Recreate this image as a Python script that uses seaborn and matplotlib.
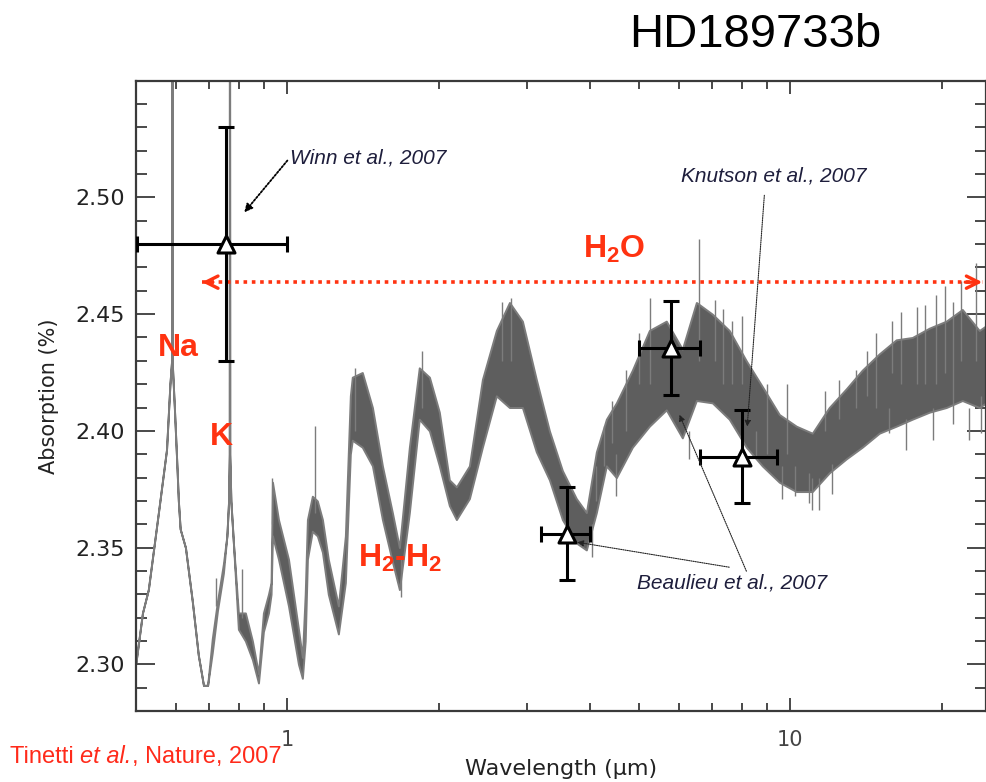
import matplotlib
matplotlib.use("Agg")
import matplotlib.pyplot as plt
import seaborn as sns
import pandas as pd
from matplotlib.ticker import FixedLocator, FixedFormatter, NullFormatter

# ---------------- data ----------------
# model spectrum: wavelength (micron), lower and upper envelope of the band (%)
spec_wl = [0.500, 0.515, 0.529, 0.554, 0.575, 0.584, 0.5885, 0.5888, 0.5895, 0.5900,
           0.596, 0.603, 0.607, 0.612, 0.627, 0.647, 0.665, 0.681, 0.694, 0.709,
           0.726, 0.746, 0.758, 0.764, 0.7665, 0.7668, 0.7675, 0.768, 0.772, 0.781,
           0.799, 0.825, 0.852, 0.876, 0.896, 0.917, 0.928, 0.934, 0.960, 1.005,
           1.052, 1.071, 1.085, 1.096, 1.121, 1.147, 1.174, 1.206, 1.263, 1.304,
           1.334, 1.346, 1.409, 1.476, 1.545, 1.617, 1.670, 1.748, 1.829, 1.916,
           2.005, 2.099, 2.168, 2.301, 2.442, 2.603, 2.764, 2.933, 3.126, 3.319,
           3.522, 3.754, 3.931, 4.115, 4.308, 4.510, 4.852, 5.245, 5.668, 6.100,
           6.505, 6.998, 7.562, 8.176, 8.796, 9.509, 10.28, 11.06, 11.95, 12.92,
           13.90, 15.03, 16.24, 17.48, 18.90, 20.42, 21.98, 23.76, 24.50]
spec_lo = [2.301, 2.322, 2.332, 2.365, 2.392, 2.420, 2.430, 2.560, 2.560, 2.430,
           2.410, 2.385, 2.370, 2.358, 2.350, 2.327, 2.304, 2.291, 2.291, 2.305,
           2.323, 2.339, 2.355, 2.370, 2.390, 2.560, 2.560, 2.390, 2.370, 2.352,
           2.315, 2.310, 2.302, 2.292, 2.314, 2.322, 2.330, 2.355, 2.345, 2.325,
           2.300, 2.294, 2.310, 2.345, 2.357, 2.355, 2.348, 2.330, 2.313, 2.335,
           2.390, 2.396, 2.393, 2.385, 2.362, 2.344, 2.332, 2.365, 2.405, 2.400,
           2.385, 2.368, 2.362, 2.371, 2.393, 2.415, 2.410, 2.410, 2.391, 2.379,
           2.362, 2.352, 2.349, 2.365, 2.385, 2.380, 2.393, 2.402, 2.409, 2.397,
           2.413, 2.412, 2.405, 2.393, 2.385, 2.378, 2.374, 2.374, 2.382, 2.388,
           2.393, 2.399, 2.402, 2.405, 2.408, 2.410, 2.413, 2.410, 2.412]
spec_hi = [2.301, 2.322, 2.332, 2.365, 2.392, 2.420, 2.430, 2.560, 2.560, 2.430,
           2.410, 2.385, 2.370, 2.358, 2.350, 2.327, 2.304, 2.291, 2.291, 2.311,
           2.327, 2.343, 2.355, 2.370, 2.390, 2.560, 2.560, 2.390, 2.370, 2.352,
           2.322, 2.322, 2.310, 2.296, 2.322, 2.330, 2.335, 2.378, 2.362, 2.345,
           2.315, 2.303, 2.330, 2.362, 2.372, 2.370, 2.362, 2.345, 2.325, 2.355,
           2.415, 2.423, 2.425, 2.410, 2.385, 2.365, 2.350, 2.393, 2.427, 2.423,
           2.408, 2.379, 2.376, 2.385, 2.422, 2.443, 2.455, 2.447, 2.422, 2.400,
           2.383, 2.371, 2.365, 2.391, 2.405, 2.412, 2.426, 2.443, 2.447, 2.435,
           2.455, 2.450, 2.443, 2.430, 2.419, 2.407, 2.402, 2.399, 2.410, 2.418,
           2.426, 2.433, 2.439, 2.440, 2.444, 2.447, 2.452, 2.443, 2.445]

# isolated noise spikes of the model (wavelength, bottom, top)
spike_wl = [0.720, 0.813, 0.930, 1.137, 1.365, 1.684, 1.855, 2.675, 2.786, 4.04,
            4.10, 4.27, 4.42, 4.51, 4.71, 5.00, 5.27, 6.28, 6.59, 7.10,
            7.34, 7.67, 8.00, 8.55, 8.99, 9.64, 9.85, 10.2, 10.9, 11.06,
            11.4, 11.7, 12.1, 12.5, 13.5, 14.2, 14.8, 15.7, 15.9, 16.6,
            17.0, 17.9, 18.5, 19.2, 19.5, 20.3, 21.1, 21.9, 22.7, 23.4, 23.9]
spike_lo = [2.325, 2.320, 2.360, 2.365, 2.400, 2.329, 2.410, 2.430, 2.430, 2.346,
            2.370, 2.385, 2.395, 2.372, 2.400, 2.420, 2.420, 2.388, 2.430, 2.430,
            2.420, 2.420, 2.420, 2.388, 2.390, 2.371, 2.390, 2.372, 2.369, 2.366,
            2.366, 2.400, 2.373, 2.405, 2.410, 2.415, 2.410, 2.399, 2.425, 2.420,
            2.392, 2.420, 2.420, 2.396, 2.420, 2.425, 2.403, 2.430, 2.396, 2.430, 2.399]
spike_hi = [2.337, 2.341, 2.380, 2.402, 2.427, 2.345, 2.434, 2.455, 2.457, 2.360,
            2.385, 2.402, 2.413, 2.390, 2.426, 2.442, 2.457, 2.400, 2.482, 2.456,
            2.452, 2.447, 2.449, 2.400, 2.420, 2.385, 2.420, 2.385, 2.382, 2.380,
            2.380, 2.417, 2.386, 2.422, 2.426, 2.434, 2.442, 2.410, 2.447, 2.451,
            2.405, 2.453, 2.454, 2.410, 2.458, 2.462, 2.455, 2.464, 2.410, 2.472, 2.415]

# measurements
obs_wl = [0.755, 3.6, 5.8, 8.0]
obs_val = [2.480, 2.356, 2.4355, 2.389]
obs_yerr = [0.050, 0.020, 0.020, 0.020]
obs_wl_lo = [0.502, 3.20, 5.00, 6.60]
obs_wl_hi = [1.000, 4.00, 6.60, 9.40]

x_major = [1, 10]
x_major_labels = ["1", "10"]
x_minor = [0.6, 0.7, 0.8, 0.9, 2, 3, 4, 5, 6, 7, 8, 9, 20]
y_major = [2.30, 2.35, 2.40, 2.45, 2.50]
y_major_labels = ["2.30", "2.35", "2.40", "2.45", "2.50"]
y_minor = [2.28 + 0.01 * i for i in range(28)]

# ---------------- styling ----------------
sns.set_theme(style="ticks")
plt.rcParams["font.family"] = ["DejaVu Sans"]
plt.rcParams["mathtext.fontset"] = "custom"
plt.rcParams["mathtext.rm"] = "Liberation Sans"
plt.rcParams["mathtext.it"] = "Liberation Sans:italic"
plt.rcParams["mathtext.bf"] = "Liberation Sans:bold"

RED = "#ff3311"
GREY = "#5e5e5e"
NAVY = "#1e1e3c"
AX = "#3a3a3a"

fig = plt.figure(figsize=(9.86, 7.82), dpi=100)
W, H = 986, 782
ax = fig.add_axes([136 / W, 1 - 711 / H, 850 / W, (711 - 80.7) / H])

# spectrum band
ax.fill_between(spec_wl, spec_lo, spec_hi, color=GREY, edgecolor="#7c7c7c", lw=1.4, zorder=2)
ax.vlines(spike_wl, spike_lo, spike_hi, color="#7c7c7c", lw=1.0, zorder=2)

# error bars + triangles
df = pd.DataFrame({"wl": obs_wl, "val": obs_val})
xerr = [[w - l for w, l in zip(obs_wl, obs_wl_lo)], [h - w for w, h in zip(obs_wl, obs_wl_hi)]]
ax.errorbar(obs_wl, obs_val, yerr=obs_yerr, xerr=xerr, fmt="none", ecolor="black",
            elinewidth=2.2, capsize=5.5, capthick=2.2, zorder=4)
sns.scatterplot(data=df, x="wl", y="val", marker="^", s=150, facecolors="white",
                edgecolor="black", linewidth=2.2, zorder=5, ax=ax, legend=False)

ax.set_xscale("log")
ax.set_xlim(0.5, 24.5)
ax.set_ylim(2.28, 2.55)

ax.xaxis.set_major_locator(FixedLocator(x_major))
ax.xaxis.set_major_formatter(FixedFormatter(x_major_labels))
ax.xaxis.set_minor_locator(FixedLocator(x_minor))
ax.xaxis.set_minor_formatter(NullFormatter())
ax.yaxis.set_major_locator(FixedLocator(y_major))
ax.yaxis.set_major_formatter(FixedFormatter(y_major_labels))
ax.yaxis.set_minor_locator(FixedLocator(y_minor))

for s in ax.spines.values():
    s.set_color(AX)
    s.set_linewidth(1.6)
ax.tick_params(which="both", direction="in", top=True, right=True, color=AX, width=1.3)
ax.tick_params(axis="y", which="major", length=14, labelsize=16, pad=8, labelcolor="#222222")
ax.tick_params(axis="y", which="minor", length=8)
ax.tick_params(axis="x", which="major", length=9.5, labelsize=15, pad=14, labelcolor="#444444")
ax.tick_params(axis="x", which="minor", length=5.5)

ax.set_xlabel("Wavelength (μm)", fontsize=16, labelpad=6, color="#222222")
ax.set_ylabel("Absorption (%)", fontsize=15, labelpad=12, color="#222222")

# H2O band arrow (dotted red)
arrow_y = 2.4637
ax.plot([0.675, 24.2], [arrow_y, arrow_y], color=RED, lw=2.6, ls=(0, (1, 1.3)), zorder=3)
ax.annotate("", xy=(0.668, arrow_y), xytext=(0.72, arrow_y),
            arrowprops=dict(arrowstyle="->", color=RED, lw=2.4, mutation_scale=22), zorder=3)
ax.annotate("", xy=(24.4, arrow_y), xytext=(22.0, arrow_y),
            arrowprops=dict(arrowstyle="->", color=RED, lw=2.4, mutation_scale=22), zorder=3)

# species labels
lab_kw = dict(color=RED, fontweight="bold", fontsize=23, family="Liberation Sans",
              ha="center", va="center", zorder=6)
ax.text(0.607, 2.4355, "Na", **lab_kw)
ax.text(0.739, 2.3975, "K", **lab_kw)
ax.text(1.677, 2.3455, r"H$_\mathbf{2}$-H$_\mathbf{2}$", **lab_kw)
ax.text(4.47, 2.4775, r"H$_\mathbf{2}$O", **lab_kw)

# literature annotations
ann_kw = dict(fontsize=15, family="Liberation Sans", style="italic", color=NAVY,
              va="center", ha="left", zorder=6)
ax.text(1.014, 2.5170, "Winn et al., 2007", **ann_kw)
ax.text(6.06, 2.5090, "Knutson et al., 2007", **ann_kw)
ax.text(4.96, 2.3350, "Beaulieu et al., 2007", **ann_kw)

arr = dict(arrowstyle="-|>", color="black", lw=1.3, ls=(0, (1, 1)), mutation_scale=12,
           shrinkA=0, shrinkB=0)
arr_thin = dict(arrowstyle="-|>", color="#222222", lw=0.8, ls=(0, (1, 1)), mutation_scale=9,
                shrinkA=0, shrinkB=0)
ax.annotate("", xy=(0.821, 2.4936), xytext=(1.0, 2.5158), arrowprops=arr, zorder=6)
ax.annotate("", xy=(8.21, 2.4018), xytext=(8.88, 2.5009), arrowprops=arr_thin, zorder=6)
ax.annotate("", xy=(3.77, 2.3523), xytext=(7.56, 2.3416), arrowprops=arr_thin, zorder=6)
ax.annotate("", xy=(6.02, 2.4069), xytext=(8.18, 2.3399), arrowprops=arr_thin, zorder=6)

# title
fig.text(755 / W, 1 - 35 / H, "HD189733b", fontsize=34, family="Liberation Sans",
         ha="center", va="center", color="black")

# citation in three pieces (upright / italic / upright)
fig.canvas.draw()
renderer = fig.canvas.get_renderer()
cite_kw = dict(fontsize=17, family="Liberation Sans", va="baseline", color="#ff2a1a")
x_px = 10
base_y = 1 - 763 / H
for part, sty in [("Tinetti ", "normal"), ("et al.", "italic"), (", Nature, 2007", "normal")]:
    t = fig.text(x_px / W, base_y, part, style=sty, ha="left", **cite_kw)
    bb = t.get_window_extent(renderer)
    x_px = bb.x1

fig.savefig("out.png", dpi=100)
